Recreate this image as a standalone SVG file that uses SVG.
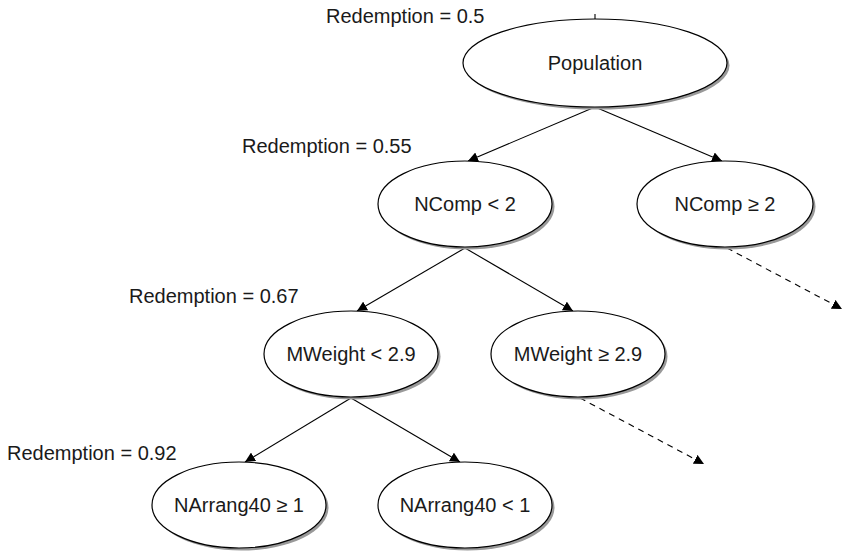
<svg xmlns="http://www.w3.org/2000/svg" width="847" height="553" viewBox="0 0 847 553">
<defs>
<style>
.sh{fill:#999;stroke:none}
.nd{fill:#fff;stroke:#000;stroke-width:1.2}
.t{font-family:"Liberation Sans",Arial,sans-serif;font-size:20px;fill:#1a1a1a}
.c{text-anchor:middle}
.ln{stroke:#000;stroke-width:1.1;fill:none}
.ds{stroke:#000;stroke-width:1.1;fill:none;stroke-dasharray:6,5}
</style>
<marker id="ah" viewBox="0 0 10 10" refX="10" refY="5" markerWidth="10" markerHeight="10" markerUnits="userSpaceOnUse" orient="auto">
<path d="M0,0 L10,5 L0,10 z" fill="#000"/>
</marker>
</defs>
<rect width="847" height="553" fill="#fff"/>
<g id="labels">
<text class="t" x="326" y="23">Redemption = 0.5</text>
<text class="t" x="242" y="153">Redemption = 0.55</text>
<text class="t" x="129" y="303">Redemption = 0.67</text>
<text class="t" x="7" y="460">Redemption = 0.92</text>
</g>
<g id="connectors">
<line class="ln" x1="595" y1="14" x2="595" y2="19"/>
<line class="ln" x1="595" y1="107" x2="468" y2="161" marker-end="url(#ah)"/>
<line class="ln" x1="595" y1="107" x2="722" y2="161" marker-end="url(#ah)"/>
<line class="ln" x1="465" y1="248" x2="357" y2="311" marker-end="url(#ah)"/>
<line class="ln" x1="465" y1="248" x2="573" y2="311" marker-end="url(#ah)"/>
<line class="ln" x1="351" y1="398" x2="245" y2="462" marker-end="url(#ah)"/>
<line class="ln" x1="351" y1="398" x2="460" y2="462" marker-end="url(#ah)"/>
<line class="ds" x1="727" y1="248" x2="842" y2="309" marker-end="url(#ah)"/>
<line class="ds" x1="580" y1="398" x2="704" y2="464" marker-end="url(#ah)"/>
</g>
<g id="population">
<ellipse class="sh" cx="597.5" cy="65.5" rx="132" ry="44"/>
<ellipse class="nd" cx="595" cy="63" rx="132" ry="44"/>
<text class="t c" x="595" y="70">Population</text>
</g>
<g id="ncomp-lt">
<ellipse class="sh" cx="467.5" cy="206.5" rx="87" ry="43"/>
<ellipse class="nd" cx="465" cy="204" rx="87" ry="43"/>
<text class="t c" x="465" y="211">NComp &lt; 2</text>
</g>
<g id="ncomp-ge">
<ellipse class="sh" cx="727.5" cy="206.5" rx="88" ry="43"/>
<ellipse class="nd" cx="725" cy="204" rx="88" ry="43"/>
<text class="t c" x="725" y="211">NComp ≥ 2</text>
</g>
<g id="mweight-lt">
<ellipse class="sh" cx="353.5" cy="356.5" rx="87" ry="43"/>
<ellipse class="nd" cx="351" cy="354" rx="87" ry="43"/>
<text class="t c" x="351" y="361">MWeight &lt; 2.9</text>
</g>
<g id="mweight-ge">
<ellipse class="sh" cx="580.5" cy="356.5" rx="87" ry="43"/>
<ellipse class="nd" cx="578" cy="354" rx="87" ry="43"/>
<text class="t c" x="578" y="361">MWeight ≥ 2.9</text>
</g>
<g id="narrang-ge">
<ellipse class="sh" cx="241.5" cy="507.5" rx="87" ry="43"/>
<ellipse class="nd" cx="239" cy="505" rx="87" ry="43"/>
<text class="t c" x="239" y="512">NArrang40 ≥ 1</text>
</g>
<g id="narrang-lt">
<ellipse class="sh" cx="467.5" cy="507.5" rx="87" ry="43"/>
<ellipse class="nd" cx="465" cy="505" rx="87" ry="43"/>
<text class="t c" x="465" y="512">NArrang40 &lt; 1</text>
</g>
</svg>
